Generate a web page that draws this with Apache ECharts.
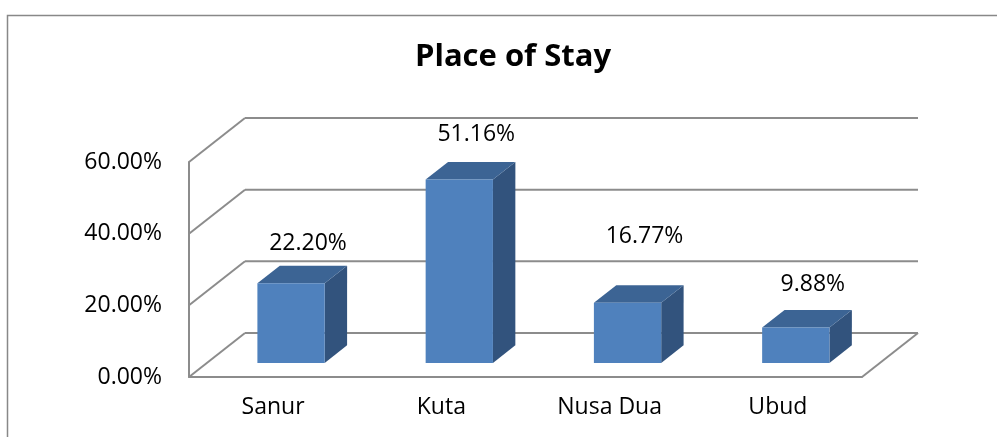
<!DOCTYPE html>
<html lang="en">
  <head>
    <meta charset="UTF-8" />
    <title>Place of Stay</title>
    <script src="https://cdn.jsdelivr.net/npm/echarts@6.0.0/dist/echarts.min.js"></script>
    <style>
      html, body { margin: 0; padding: 0; background: #fff; }
    </style>
  </head>
  <body>
    <div id="main" style="width: 997px; height: 437px"></div>
    <script>
      // data
      var places = ['Sanur', 'Kuta', 'Nusa Dua', 'Ubud']
      var shares = [22.2, 51.16, 16.77, 9.88]
      var yTicks = [0, 20, 40, 60]

      // 3d look: depth vector of the walls, bars sit between 0.32 and 0.72 of it
      var DEPTH = [56, -44]
      var BAR_FRONT = 0.32
      var BAR_BACK = 0.72
      var LABEL_LIFT = [40, 45, 66, 43] // excel put the Nusa Dua label higher
      var LINE = '#8c8c8c'
      var FONT = 'Open Sans'

      var chart = echarts.init(document.getElementById('main'))

      function wallItem(params, api) {
        var cs = params.coordSys
        var v = api.value(1)
        var y = api.coord([0, v])[1]
        var left = cs.x
        var right = cs.x + cs.width
        var style = { stroke: LINE, lineWidth: 2, fill: null }
        var kids = [
          // diagonal from the front axis to the back wall
          { type: 'line', shape: { x1: left, y1: y, x2: left + DEPTH[0], y2: y + DEPTH[1] }, style: style },
          // back wall gridline
          { type: 'line', shape: { x1: left + DEPTH[0], y1: y + DEPTH[1], x2: right + DEPTH[0], y2: y + DEPTH[1] }, style: style }
        ]
        if (v === 0) {
          kids.push({ type: 'line', shape: { x1: right, y1: y, x2: right + DEPTH[0], y2: y + DEPTH[1] }, style: style })
        }
        return { type: 'group', children: kids }
      }

      function barItem(params, api) {
        var idx = api.value(0)
        var val = api.value(1)
        var top = api.coord([idx, val])
        var base = api.coord([idx, 0])
        var w = api.size([1, 0])[0] * 0.4
        var fx = DEPTH[0] * BAR_FRONT, fy = DEPTH[1] * BAR_FRONT
        var bx = DEPTH[0] * BAR_BACK, by = DEPTH[1] * BAR_BACK
        var x0 = top[0] - w / 2 + fx
        var x1 = top[0] + w / 2 + fx
        var yt = top[1] + fy
        var yb = base[1] + fy
        var dx = bx - fx, dy = by - fy
        return {
          type: 'group',
          children: [
            { type: 'polygon', shape: { points: [[x1, yt], [x1 + dx, yt + dy], [x1 + dx, yb + dy], [x1, yb]] }, style: { fill: '#32537d' } },
            { type: 'polygon', shape: { points: [[x0, yt], [x0 + dx, yt + dy], [x1 + dx, yt + dy], [x1, yt]] }, style: { fill: '#3c6494' } },
            { type: 'rect', shape: { x: x0, y: yt, width: w, height: yb - yt }, style: { fill: '#4f81bd' } },
            {
              type: 'text',
              x: (x0 + x1) / 2 + 17,
              y: yt - LABEL_LIFT[idx],
              style: {
                text: val.toFixed(2) + '%',
                fontFamily: FONT,
                fontSize: 23,
                fill: '#000',
                align: 'center',
                verticalAlign: 'middle'
              }
            }
          ]
        }
      }

      var option = {
        animation: false,
        title: {
          text: 'Place of Stay',
          left: 508,
          top: 37,
          textAlign: 'center',
          textStyle: { fontFamily: FONT, fontWeight: 'bold', fontSize: 31, color: '#000' }
        },
        graphic: [
          {
            type: 'rect',
            left: 5,
            top: 13,
            shape: { width: 1100, height: 600 },
            style: { fill: null, stroke: '#888', lineWidth: 1.5 }
          }
        ],
        grid: { left: 189, right: 135, top: 162, bottom: 60 },
        xAxis: {
          type: 'category',
          data: places,
          axisLine: { lineStyle: { color: LINE, width: 2 } },
          axisTick: { show: false },
          axisLabel: { fontFamily: FONT, fontSize: 23, color: '#000', margin: 19 }
        },
        yAxis: {
          type: 'value',
          min: 0,
          max: 60,
          interval: 20,
          axisLine: { show: true, lineStyle: { color: LINE, width: 2 } },
          axisTick: { show: false },
          splitLine: { show: false },
          axisLabel: {
            fontFamily: FONT,
            fontSize: 23,
            color: '#000',
            margin: 27,
            formatter: function (v) { return v.toFixed(2) + '%' }
          }
        },
        series: [
          {
            type: 'custom',
            silent: true,
            clip: false,
            renderItem: wallItem,
            data: yTicks.map(function (v) { return [0, v] }),
            z: 1
          },
          {
            type: 'custom',
            silent: true,
            clip: false,
            renderItem: barItem,
            data: shares.map(function (v, i) { return [i, v] }),
            z: 2
          }
        ]
      }
      chart.setOption(option)
    </script>
  </body>
</html>
